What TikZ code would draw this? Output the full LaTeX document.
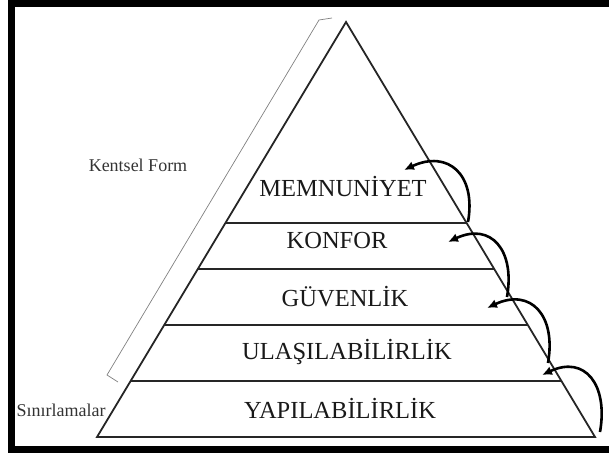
\documentclass[tikz,border=0pt]{standalone}
\usepackage{fontspec}
\setmainfont{Liberation Serif}
\usetikzlibrary{calc,positioning,arrows.meta}

\begin{document}
\begin{tikzpicture}[x=1pt,y=-1pt]
      \tikzstyle{frame}=[line width=7pt, draw=black]
      \tikzstyle{pyr}=[line width=1.8pt, draw=black!85]
      \tikzstyle{layer}=[font=\fontsize{24.5}{28}\selectfont, text=black!90, inner sep=0pt]
      \tikzstyle{side}=[font=\fontsize{18}{21}\selectfont, text=black!80, inner sep=0pt]
      \tikzstyle{brace}=[line width=0.7pt, draw=black!50]
      \tikzstyle{connect}=[-{Latex[length=10pt,width=9pt]}, line width=2.6pt, looseness=1.5]

      \useasboundingbox (0,0) rectangle (609,454);
      \draw[frame] (11.5,3.5) rectangle (640,449);

      \coordinate (apex) at (346,22);
      \coordinate (bl) at (97,437);
      \coordinate (br) at (595,437);

      \draw[pyr] (apex) -- (bl) -- (br) -- cycle;
      \foreach \f in {0.4843,0.5952,0.7301,0.8651}
        \draw[pyr, line width=1.5pt] ($(apex)!\f!(bl)$) -- ($(apex)!\f!(br)$);

      \node[layer] (memnuniyet) at (343,187) {MEMNUNİYET};
      \node[layer] (konfor) at (337,241) {KONFOR};
      \node[layer] (guvenlik) at (345,297) {GÜVENLİK};
      \node[layer] (ulasilabilirlik) at (347,352) {ULAŞILABİLİRLİK};
      \node[layer] (yapilabilirlik) at (340,408) {YAPILABİLİRLİK};

      \node[side] (kentsel) at (138,165) {Kentsel Form};
      \node[side] (sinir) at (61,410) {Sınırlamalar};

      % bracket along the left side
      \draw[brace] (332,18) -- (319,20) -- (107,375) -- (118,382);

      % arrows between the levels
      \coordinate (s1) at (468,222);
      \coordinate (e1) at (404,170);
      \coordinate (s2) at (507,297);
      \coordinate (e2) at (448,242);
      \coordinate (s3) at (548,363);
      \coordinate (e3) at (487,308);
      \coordinate (s4) at (600,432);
      \coordinate (e4) at (542,375);

      \draw[connect] (s1) to[out=80,in=25] (e1);
      \draw[connect] (s2) to[out=80,in=25] (e2);
      \draw[connect] (s3) to[out=80,in=25] (e3);
      \draw[connect] (s4) to[out=80,in=25] (e4);
\end{tikzpicture}
\end{document}
